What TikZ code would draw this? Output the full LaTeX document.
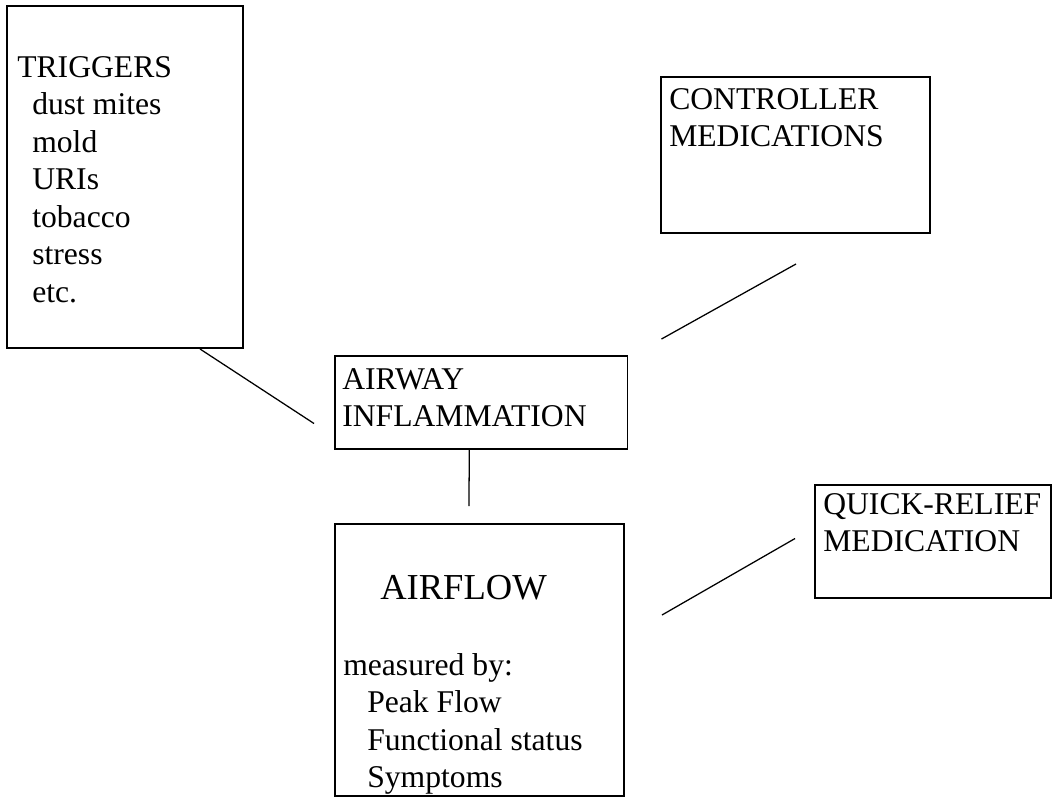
\documentclass[tikz,border=0pt]{standalone}
\usepackage{fontspec}
\setmainfont{Liberation Serif}
\usetikzlibrary{positioning,calc,fit}

\begin{document}
\begin{tikzpicture}[x=0.025cm, y=-0.025cm,
    box/.style={rectangle, draw, line width=1.4pt, inner sep=0pt},
    txt/.style={anchor=north west, inner sep=0pt, align=left, font=\fontsize{22.5}{26.7}\selectfont},
    bigtxt/.style={anchor=north west, inner sep=0pt, font=\fontsize{26}{31}\selectfont},
    link/.style={line width=0.9pt}
]
\useasboundingbox (0,0) rectangle (1052,798);

% === TRIGGERS ===
\node (trig) [box, fit={(7,6) (243,348)}] {};
\node (trigtext) [txt] at (17,56) {TRIGGERS\\
  \hspace*{0.375cm}dust mites\\ \hspace*{0.375cm}mold\\ \hspace*{0.375cm}URIs\\
  \hspace*{0.375cm}tobacco\\ \hspace*{0.375cm}stress\\ \hspace*{0.375cm}etc.};

% === CONTROLLER ===
\node (ctrl) [box, fit={(661,77) (930,233)}] {};
\node (ctrltext) [txt] at (669,88) {CONTROLLER\\MEDICATIONS};

% === AIRWAY ===
\node (airway) [box, fit={(335,356) (627.5,449)}] {};
\node (airwaytext) [txt] at (342,368) {AIRWAY\\INFLAMMATION};

% === AIRFLOW ===
\node (airflow) [box, fit={(335,524) (624,796)}] {};
\node (flowtitle) [bigtxt] at (380,575) {AIRFLOW};
\node (flowtext) [txt] at (343,653) {measured by:\\
  \hspace*{0.6cm}Peak Flow\\ \hspace*{0.6cm}Functional status\\ \hspace*{0.6cm}Symptoms};

% === QUICK-RELIEF ===
\node (quick) [box, fit={(815,485) (1051,598)}] {};
\node (quicktext) [txt] at (823,493) {QUICK-RELIEF\\MEDICATION};

% Garis penghubung
\coordinate (trigend) at ($(airway.west)+(-20,21)$);
\coordinate (ctrlend) at ($(ctrl.south)+(0.5,30)$);
\coordinate (flowend) at ($(airflow.north)+(-10.5,-17)$);
\coordinate (quickend) at ($(quick.west)+(-19,-3)$);

\draw[link] ($(trig.south)+(75,0)$) -- (trigend);
\draw[link] ($(airway.north east)+(33,-16)$) -- (ctrlend);
\draw[link] ($(airway.south)+(-12,0)$) -- (flowend);
\draw[link] ($(airflow.east)+(37,-45)$) -- (quickend);

\end{tikzpicture}
\end{document}
